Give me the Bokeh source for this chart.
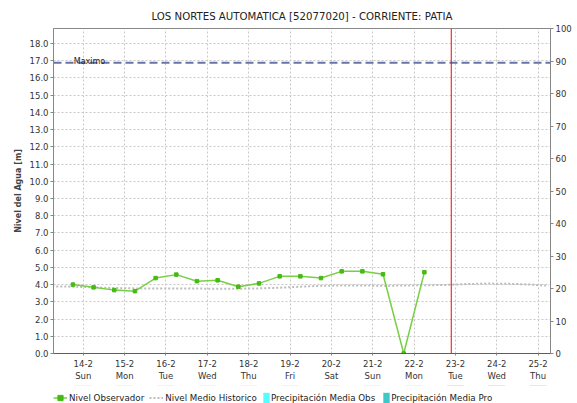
from bokeh.plotting import figure
from bokeh.layouts import column
from bokeh.models import (Range1d, LinearAxis, FixedTicker, Span, Label,
                          Legend, LegendItem, PrintfTickFormatter)
from bokeh.embed import file_html
from bokeh.resources import INLINE

# ---------------- data ----------------
title_text = "LOS NORTES AUTOMATICA [52077020] - CORRIENTE: PATIA"
y_label = "Nivel del Agua [m]"

day_ticks = [14, 15, 16, 17, 18, 19, 20, 21, 22, 23, 24, 25]
day_labels = ["14-2\nSun", "15-2\nMon", "16-2\nTue", "17-2\nWed", "18-2\nThu",
              "19-2\nFri", "20-2\nSat", "21-2\nSun", "22-2\nMon", "23-2\nTue",
              "24-2\nWed", "25-2\nThu"]

level_ticks = [0, 1, 2, 3, 4, 5, 6, 7, 8, 9, 10, 11, 12, 13, 14, 15, 16, 17, 18]
precip_ticks = [0, 10, 20, 30, 40, 50, 60, 70, 80, 90, 100]

# Nivel Observador (every 12 h, day-of-February)
obs_day = [13.75, 14.25, 14.75, 15.25, 15.75, 16.25, 16.75, 17.25, 17.75,
           18.25, 18.75, 19.25, 19.75, 20.25, 20.75, 21.25, 21.75, 22.25]
obs_level = [4.00, 3.84, 3.68, 3.62, 4.38, 4.58, 4.20, 4.25, 3.88,
             4.07, 4.48, 4.48, 4.38, 4.77, 4.77, 4.60, 0.00, 4.72]

# Nivel Medio Historico
hist_day = [13.25, 13.75, 14.25, 14.75, 15.25, 15.75, 16.25, 16.75, 17.25,
            17.75, 18.25, 18.75, 19.25, 19.75, 20.25, 20.75, 21.25, 21.75,
            22.25, 22.75, 23.25, 23.75, 24.25, 24.75, 25.25]
hist_level = [3.90, 3.88, 3.84, 3.80, 3.78, 3.78, 3.77, 3.77, 3.76,
              3.76, 3.78, 3.82, 3.88, 3.93, 3.95, 3.95, 3.93, 3.95,
              3.96, 3.98, 4.03, 4.06, 4.05, 4.01, 3.94]

# Precipitation (mm, right axis) - no rain shown in this period
precip_obs_day = [14, 15, 16, 17, 18, 19, 20, 21, 22]
precip_obs = [0, 0, 0, 0, 0, 0, 0, 0, 0]
precip_pro_day = [23, 24, 25]
precip_pro = [0, 0, 0]

maximo_level = 16.88
maximo_label = "Maximo"
now_day = 22.9

series_labels = ["Nivel Observador", "Nivel Medio Historico",
                 "Precipitación Media Obs", "Precipitación Media Pro"]

FONT = "DejaVu Sans"

# styles
OBS_LINE = dict(line_color="#77d044", line_width=1.5)
OBS_PTS = dict(marker="square", size=3.5, fill_color="#44bb11", line_color="#44bb11")
HIST = dict(line_color="#bdbdbd", line_width=2, line_dash="2 2")
P_OBS = dict(fill_color="#55ffff", line_color=None)
P_PRO = dict(fill_color="#40c8c8", line_color=None)

# ---------------- main figure ----------------
p = figure(width=577, height=385,
           x_range=Range1d(13.28, 25.30), y_range=Range1d(0, 18.87),
           output_backend="svg", toolbar_location=None,
           min_border_left=53, min_border_right=27,
           min_border_top=28, min_border_bottom=32,
           background_fill_color="white", border_fill_color="white",
           outline_line_color="#888888", title=title_text)

p.title.align = "center"
p.title.text_font = FONT
p.title.text_font_size = "10.2px"
p.title.text_font_style = "normal"
p.title.text_color = "#222222"
p.title.standoff = 14

p.extra_y_ranges = {"precip": Range1d(0, 100)}

# grids
p.xgrid.ticker = FixedTicker(ticks=day_ticks)
p.ygrid.ticker = FixedTicker(ticks=level_ticks)
for g in (p.xgrid, p.ygrid):
    g.grid_line_color = "#c8c8c8"
    g.grid_line_dash = "2 2"
    g.grid_line_width = 1

# x axis
xa = p.xaxis[0]
xa.ticker = FixedTicker(ticks=day_ticks)
xa.major_label_overrides = {t: l for t, l in zip(day_ticks, day_labels)}
xa.major_label_text_font = FONT
xa.major_label_text_font_size = "8.5px"
xa.major_label_text_color = "#333333"
xa.major_tick_out = 2
xa.major_tick_in = 0
xa.minor_tick_line_color = None
xa.major_tick_line_color = "#888888"
xa.major_label_standoff = 3
xa.axis_line_color = "#333333"
xa.axis_line_dash = "1 1"

# left axis
ya = p.yaxis[0]
ya.ticker = FixedTicker(ticks=level_ticks)
ya.formatter = PrintfTickFormatter(format="%.1f")
ya.axis_label = y_label
ya.axis_label_text_font = FONT
ya.axis_label_text_font_size = "8px"
ya.axis_label_text_font_style = "bold"
ya.axis_label_text_color = "#444444"
ya.axis_label_standoff = 4
ya.major_label_text_font = FONT
ya.major_label_text_font_size = "8.5px"
ya.major_label_text_color = "#333333"
ya.major_tick_out = 3
ya.major_tick_in = 0
ya.minor_tick_line_color = None
ya.major_tick_line_color = "#888888"
ya.axis_line_color = "#888888"
ya.major_label_standoff = 2

# right axis
ra = LinearAxis(y_range_name="precip", ticker=FixedTicker(ticks=precip_ticks))
ra.major_label_text_font = FONT
ra.major_label_text_font_size = "8.5px"
ra.major_label_text_color = "#333333"
ra.major_tick_out = 3
ra.major_tick_in = 0
ra.minor_tick_line_color = None
ra.major_tick_line_color = "#888888"
ra.axis_line_color = "#888888"
ra.major_label_standoff = 2
p.add_layout(ra, "right")

# Maximo line
p.add_layout(Span(location=maximo_level, dimension="width",
                  line_color="#6673aa", line_width=2, line_dash="8 4"))
p.add_layout(Label(x=13.77, y=maximo_level, text=maximo_label, y_offset=1,
                   text_baseline="alphabetic", text_font=FONT,
                   text_font_size="8px", text_color="#222222"))

# precipitation bars (zero in this period)
p.vbar(x=precip_obs_day, top=precip_obs, width=0.4, y_range_name="precip", **P_OBS)
p.vbar(x=precip_pro_day, top=precip_pro, width=0.4, y_range_name="precip", **P_PRO)

# historic line
p.line(hist_day, hist_level, **HIST)

# observed
p.line(obs_day, obs_level, **OBS_LINE)
p.scatter(obs_day, obs_level, **OBS_PTS)

# current time
p.add_layout(Span(location=now_day, dimension="height", line_color="#ff0000",
                  line_width=1))

# ---------------- legend strip ----------------
# same series drawn off-view, only used as legend keys
lg = figure(width=577, height=18, x_range=Range1d(13.28, 25.30),
            y_range=Range1d(-10, -9),
            output_backend="svg", toolbar_location=None,
            x_axis_location=None, y_axis_location=None,
            min_border=0, min_border_left=0, min_border_right=0,
            min_border_top=0, min_border_bottom=0,
            outline_line_color=None, background_fill_color="white",
            border_fill_color="white")
lg.xgrid.visible = False
lg.ygrid.visible = False

l_obs_line = lg.line(obs_day, obs_level, **OBS_LINE)
l_obs_pts = lg.scatter(obs_day, obs_level, **OBS_PTS)
l_hist = lg.line(hist_day, hist_level, **HIST)
l_po = lg.vbar(x=precip_obs_day, top=precip_obs, width=0.4, **P_OBS)
l_pp = lg.vbar(x=precip_pro_day, top=precip_pro, width=0.4, **P_PRO)

common = dict(orientation="horizontal", padding=0, margin=0,
              border_line_color=None, background_fill_alpha=0,
              label_text_font=FONT, label_text_font_size="8.7px",
              label_text_color="#222222", label_height=11, glyph_height=13)

legA = Legend(items=[LegendItem(label=series_labels[0], renderers=[l_obs_line, l_obs_pts]),
                     LegendItem(label=series_labels[1], renderers=[l_hist])],
              location=(0, -1), glyph_width=14, label_standoff=2, spacing=5,
              **common)
legB = Legend(items=[LegendItem(label=series_labels[2], renderers=[l_po]),
                     LegendItem(label=series_labels[3], renderers=[l_pp])],
              location=(209, -1), glyph_width=8, label_standoff=1, spacing=7,
              **common)
lg.add_layout(legA)
lg.add_layout(legB)

layout = column(p, lg, spacing=0)
open("out.html", "w").write(file_html(layout, INLINE))
